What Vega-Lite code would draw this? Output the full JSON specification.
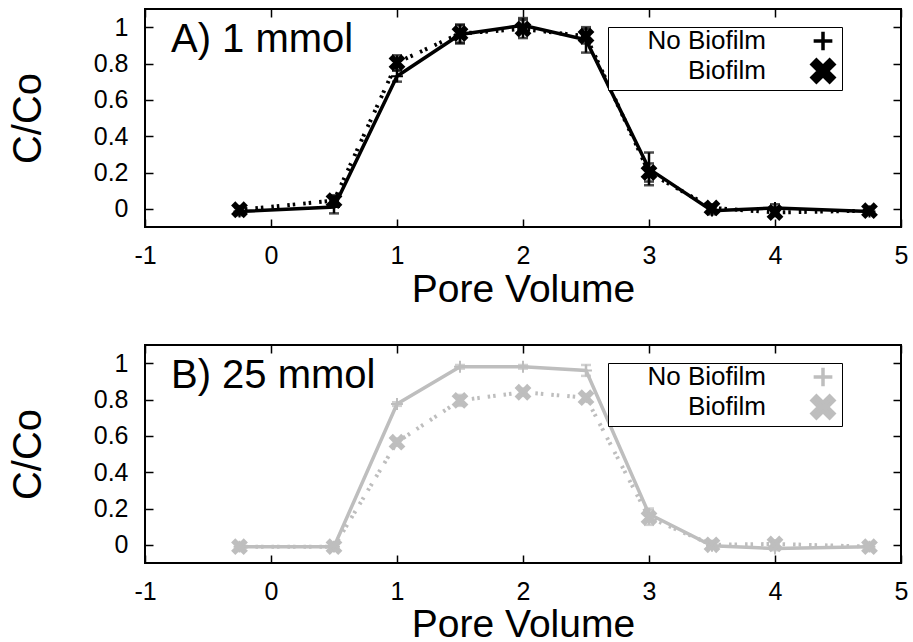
{
  "$schema": "https://vega.github.io/schema/vega-lite/v6.json",
  "padding": {"left": 7, "top": 7, "right": 5, "bottom": 0},
  "bounds": "flush",
  "spacing": 118,
  "resolve": {"scale": {"shape": "independent"}, "legend": {"shape": "independent"}},
  "datasets": {
    "a": [
      {"pv": -0.25, "val": -0.015, "lo": -0.035, "hi": 0.005, "series": "No Biofilm"},
      {"pv": 0.5, "val": 0.01, "lo": -0.025, "hi": 0.045, "series": "No Biofilm"},
      {"pv": 1, "val": 0.73, "lo": 0.7, "hi": 0.76, "series": "No Biofilm"},
      {"pv": 1.5, "val": 0.96, "lo": 0.91, "hi": 1.01, "series": "No Biofilm"},
      {"pv": 2, "val": 1.01, "lo": 0.97, "hi": 1.05, "series": "No Biofilm"},
      {"pv": 2.5, "val": 0.93, "lo": 0.86, "hi": 1.0, "series": "No Biofilm"},
      {"pv": 3, "val": 0.22, "lo": 0.13, "hi": 0.31, "series": "No Biofilm"},
      {"pv": 3.5, "val": -0.01, "lo": -0.03, "hi": 0.01, "series": "No Biofilm"},
      {"pv": 4, "val": 0.005, "lo": -0.015, "hi": 0.025, "series": "No Biofilm"},
      {"pv": 4.75, "val": -0.015, "lo": -0.025, "hi": -0.005, "series": "No Biofilm"},
      {"pv": -0.25, "val": -0.005, "lo": -0.025, "hi": 0.015, "series": "Biofilm"},
      {"pv": 0.5, "val": 0.045, "lo": 0.015, "hi": 0.075, "series": "Biofilm"},
      {"pv": 1, "val": 0.805, "lo": 0.765, "hi": 0.845, "series": "Biofilm"},
      {"pv": 1.5, "val": 0.965, "lo": 0.915, "hi": 1.015, "series": "Biofilm"},
      {"pv": 2, "val": 0.99, "lo": 0.94, "hi": 1.04, "series": "Biofilm"},
      {"pv": 2.5, "val": 0.95, "lo": 0.91, "hi": 0.99, "series": "Biofilm"},
      {"pv": 3, "val": 0.2, "lo": 0.15, "hi": 0.25, "series": "Biofilm"},
      {"pv": 3.5, "val": 0.005, "lo": -0.015, "hi": 0.025, "series": "Biofilm"},
      {"pv": 4, "val": -0.02, "lo": -0.04, "hi": 0.0, "series": "Biofilm"},
      {"pv": 4.75, "val": -0.01, "lo": -0.03, "hi": 0.01, "series": "Biofilm"}
    ],
    "b": [
      {"pv": -0.25, "val": -0.01, "lo": -0.02, "hi": 0.0, "series": "No Biofilm"},
      {"pv": 0.5, "val": -0.01, "lo": -0.02, "hi": 0.0, "series": "No Biofilm"},
      {"pv": 1, "val": 0.775, "lo": 0.765, "hi": 0.785, "series": "No Biofilm"},
      {"pv": 1.5, "val": 0.98, "lo": 0.97, "hi": 0.99, "series": "No Biofilm"},
      {"pv": 2, "val": 0.98, "lo": 0.97, "hi": 0.99, "series": "No Biofilm"},
      {"pv": 2.5, "val": 0.96, "lo": 0.93, "hi": 0.99, "series": "No Biofilm"},
      {"pv": 3, "val": 0.17, "lo": 0.14, "hi": 0.2, "series": "No Biofilm"},
      {"pv": 3.5, "val": -0.005, "lo": -0.015, "hi": 0.005, "series": "No Biofilm"},
      {"pv": 4, "val": -0.02, "lo": -0.03, "hi": -0.01, "series": "No Biofilm"},
      {"pv": 4.75, "val": -0.01, "lo": -0.02, "hi": 0.0, "series": "No Biofilm"},
      {"pv": -0.25, "val": -0.01, "lo": -0.03, "hi": 0.01, "series": "Biofilm"},
      {"pv": 0.5, "val": -0.01, "lo": -0.03, "hi": 0.01, "series": "Biofilm"},
      {"pv": 1, "val": 0.565, "lo": 0.545, "hi": 0.585, "series": "Biofilm"},
      {"pv": 1.5, "val": 0.795, "lo": 0.765, "hi": 0.825, "series": "Biofilm"},
      {"pv": 2, "val": 0.84, "lo": 0.82, "hi": 0.86, "series": "Biofilm"},
      {"pv": 2.5, "val": 0.81, "lo": 0.79, "hi": 0.83, "series": "Biofilm"},
      {"pv": 3, "val": 0.15, "lo": 0.11, "hi": 0.19, "series": "Biofilm"},
      {"pv": 3.5, "val": 0.0, "lo": -0.02, "hi": 0.02, "series": "Biofilm"},
      {"pv": 4, "val": 0.005, "lo": -0.015, "hi": 0.025, "series": "Biofilm"},
      {"pv": 4.75, "val": -0.01, "lo": -0.03, "hi": 0.01, "series": "Biofilm"}
    ]
  },
  "config": {
    "view": {"stroke": "black", "strokeWidth": 2},
    "font": "Liberation Sans",
    "axis": {
      "labelFont": "Liberation Sans", "titleFont": "Liberation Sans",
      "labelColor": "black", "titleColor": "black", "tickColor": "black",
      "tickWidth": 1.5, "grid": false, "domain": false,
      "labelFontSize": 25, "titleFontSize": 40, "titleFontWeight": "normal",
      "tickSize": -8, "labelFlush": false, "labelOverlap": false, "labelBound": false,
      "labelExpr": "'' + datum.value"
    },
    "title": {
      "font": "Liberation Sans", "fontSize": 40, "fontWeight": "normal", "color": "black",
      "anchor": "start", "frame": "group", "offset": -52, "baseline": "alphabetic", "dx": 26
    }
  },
  "vconcat": [
    {
      "width": 756, "height": 218,
      "title": {"text": "A) 1 mmol"},
      "data": {"name": "a"},
      "layer": [
        {
          "mark": {"type": "errorbar", "color": "black", "ticks": {"size": 10, "thickness": 2.5}, "rule": {"strokeWidth": 2.5}},
          "encoding": {
            "x": {"field": "pv", "type": "quantitative", "scale": {"domain": [-1, 5], "nice": false, "zero": false}, "axis": null},
            "y": {"field": "lo", "type": "quantitative", "scale": {"domain": [-0.1, 1.1], "nice": false, "zero": false}, "axis": null},
            "y2": {"field": "hi"}
          }
        },
        {
          "transform": [{"filter": "datum.series === 'Biofilm'"}],
          "mark": {"type": "line", "color": "black", "strokeWidth": 4, "strokeDash": [2.5, 3, 2.5, 8]},
          "encoding": {
            "x": {"field": "pv", "type": "quantitative", "scale": {"domain": [-1, 5], "nice": false, "zero": false}, "axis": null},
            "y": {"field": "val", "type": "quantitative", "scale": {"domain": [-0.1, 1.1], "nice": false, "zero": false}, "axis": null}
          }
        },
        {
          "transform": [{"filter": "datum.series === 'No Biofilm'"}],
          "mark": {"type": "line", "color": "black", "strokeWidth": 3.5},
          "encoding": {
            "x": {"field": "pv", "type": "quantitative", "scale": {"domain": [-1, 5], "nice": false, "zero": false},
              "axis": {"orient": "bottom", "values": [-1, 0, 1, 2, 3, 4, 5], "title": "Pore Volume", "titleFontSize": 39, "titleY": 74, "titleBaseline": "alphabetic", "labelPadding": 24}},
            "y": {"field": "val", "type": "quantitative", "scale": {"domain": [-0.1, 1.1], "nice": false, "zero": false},
              "axis": {"orient": "left", "values": [0, 0.2, 0.4, 0.6, 0.8, 1], "title": "C/Co", "titleX": -105, "titleY": 109, "titleAngle": 270, "titleBaseline": "alphabetic", "titleAlign": "center", "labelPadding": 25}}
          }
        },
        {
          "mark": {"type": "point", "filled": true, "color": "black", "stroke": "black", "strokeWidth": 2, "opacity": 1, "size": 196},
          "encoding": {
            "x": {"field": "pv", "type": "quantitative", "scale": {"domain": [-1, 5], "nice": false, "zero": false},
              "axis": {"orient": "top", "values": [-1, 0, 1, 2, 3, 4, 5], "labels": false, "title": null}},
            "y": {"field": "val", "type": "quantitative", "scale": {"domain": [-0.1, 1.1], "nice": false, "zero": false},
              "axis": {"orient": "right", "values": [0, 0.2, 0.4, 0.6, 0.8, 1], "labels": false, "title": null}},
            "shape": {"field": "series", "type": "nominal",
              "scale": {"domain": ["No Biofilm", "Biofilm"], "range": ["M-0.85,0H0.85M0,-0.85V0.85", "M-1,-0.6L-0.6,-1L0,-0.4L0.6,-1L1,-0.6L0.4,0L1,0.6L0.6,1L0,0.4L-0.6,1L-1,0.6L-0.4,0Z"]},
              "legend": {"title": null,
                "orient": "none", "legendX": 463, "legendY": 18,
                "labelFont": "Liberation Sans", "labelFontSize": 26, "labelColor": "black",
                "labelAlign": "right", "labelOffset": -70, "symbolOffset": 201,
                "rowPadding": -8, "padding": 1,
                "strokeColor": "black", "fillColor": "white",
                "encoding": {"symbols": {
                  "shape": {
                    "condition": {"test": "datum.value === 'Biofilm'", "value": "M-3.636,0H-3.455M-3.236,0H-3.055M-2.618,0H-2.436M-2.218,0H-2.036M-1.6,0H-1.418M-1.2,0H-1.018M1.018,0H1.2M1.418,0H1.6M2.036,0H2.218M2.436,0H2.618M3.055,0H3.236M3.455,0H3.636M-0.873,-0.524L-0.524,-0.873L0,-0.349L0.524,-0.873L0.873,-0.524L0.349,0L0.873,0.524L0.524,0.873L0,0.349L-0.524,0.873L-0.873,0.524L-0.349,0ZM4.5,0"},
                    "value": "M-3.636,0H3.636M-3.636,-0.364V0.364M3.636,-0.364V0.364M0,-0.545V0.545M4.5,0"
                  },
                  "size": {"value": 484},
                  "strokeWidth": {"value": 3.5},
                  "stroke": {"value": "black"},
                  "fill": {"value": "black"},
                  "opacity": {"value": 1}, "fillOpacity": {"value": 1}, "strokeOpacity": {"value": 1}
                }}
              }
            }
          }
        }
      ],
      "resolve": {"axis": {"x": "independent", "y": "independent"}}
    },
    {
      "width": 756, "height": 218,
      "title": {"text": "B) 25 mmol"},
      "data": {"name": "b"},
      "layer": [
        {
          "mark": {"type": "errorbar", "color": "#bebebe", "ticks": {"size": 10, "thickness": 2.5}, "rule": {"strokeWidth": 2.5}},
          "encoding": {
            "x": {"field": "pv", "type": "quantitative", "scale": {"domain": [-1, 5], "nice": false, "zero": false}, "axis": null},
            "y": {"field": "lo", "type": "quantitative", "scale": {"domain": [-0.1, 1.1], "nice": false, "zero": false}, "axis": null},
            "y2": {"field": "hi"}
          }
        },
        {
          "transform": [{"filter": "datum.series === 'Biofilm'"}],
          "mark": {"type": "line", "color": "#bebebe", "strokeWidth": 4, "strokeDash": [2.5, 3, 2.5, 8]},
          "encoding": {
            "x": {"field": "pv", "type": "quantitative", "scale": {"domain": [-1, 5], "nice": false, "zero": false}, "axis": null},
            "y": {"field": "val", "type": "quantitative", "scale": {"domain": [-0.1, 1.1], "nice": false, "zero": false}, "axis": null}
          }
        },
        {
          "transform": [{"filter": "datum.series === 'No Biofilm'"}],
          "mark": {"type": "line", "color": "#bebebe", "strokeWidth": 3.5},
          "encoding": {
            "x": {"field": "pv", "type": "quantitative", "scale": {"domain": [-1, 5], "nice": false, "zero": false},
              "axis": {"orient": "bottom", "values": [-1, 0, 1, 2, 3, 4, 5], "title": "Pore Volume", "titleFontSize": 39, "titleY": 73, "titleBaseline": "alphabetic", "labelPadding": 24}},
            "y": {"field": "val", "type": "quantitative", "scale": {"domain": [-0.1, 1.1], "nice": false, "zero": false},
              "axis": {"orient": "left", "values": [0, 0.2, 0.4, 0.6, 0.8, 1], "title": "C/Co", "titleX": -105, "titleY": 109, "titleAngle": 270, "titleBaseline": "alphabetic", "titleAlign": "center", "labelPadding": 25}}
          }
        },
        {
          "mark": {"type": "point", "filled": true, "color": "#bebebe", "stroke": "#bebebe", "strokeWidth": 2, "opacity": 1, "size": 196},
          "encoding": {
            "x": {"field": "pv", "type": "quantitative", "scale": {"domain": [-1, 5], "nice": false, "zero": false},
              "axis": {"orient": "top", "values": [-1, 0, 1, 2, 3, 4, 5], "labels": false, "title": null}},
            "y": {"field": "val", "type": "quantitative", "scale": {"domain": [-0.1, 1.1], "nice": false, "zero": false},
              "axis": {"orient": "right", "values": [0, 0.2, 0.4, 0.6, 0.8, 1], "labels": false, "title": null}},
            "shape": {"field": "series", "type": "nominal",
              "scale": {"domain": ["No Biofilm", "Biofilm"], "range": ["M-0.85,0H0.85M0,-0.85V0.85", "M-1,-0.6L-0.6,-1L0,-0.4L0.6,-1L1,-0.6L0.4,0L1,0.6L0.6,1L0,0.4L-0.6,1L-1,0.6L-0.4,0Z"]},
              "legend": {"title": null,
                "orient": "none", "legendX": 463, "legendY": 18,
                "labelFont": "Liberation Sans", "labelFontSize": 26, "labelColor": "black",
                "labelAlign": "right", "labelOffset": -70, "symbolOffset": 201,
                "rowPadding": -8, "padding": 1,
                "strokeColor": "black", "fillColor": "white",
                "encoding": {"symbols": {
                  "shape": {
                    "condition": {"test": "datum.value === 'Biofilm'", "value": "M-3.636,0H-3.455M-3.236,0H-3.055M-2.618,0H-2.436M-2.218,0H-2.036M-1.6,0H-1.418M-1.2,0H-1.018M1.018,0H1.2M1.418,0H1.6M2.036,0H2.218M2.436,0H2.618M3.055,0H3.236M3.455,0H3.636M-0.873,-0.524L-0.524,-0.873L0,-0.349L0.524,-0.873L0.873,-0.524L0.349,0L0.873,0.524L0.524,0.873L0,0.349L-0.524,0.873L-0.873,0.524L-0.349,0ZM4.5,0"},
                    "value": "M-3.636,0H3.636M-3.636,-0.364V0.364M3.636,-0.364V0.364M0,-0.545V0.545M4.5,0"
                  },
                  "size": {"value": 484},
                  "strokeWidth": {"value": 3.5},
                  "stroke": {"value": "#bebebe"},
                  "fill": {"value": "#bebebe"},
                  "opacity": {"value": 1}, "fillOpacity": {"value": 1}, "strokeOpacity": {"value": 1}
                }}
              }
            }
          }
        }
      ],
      "resolve": {"axis": {"x": "independent", "y": "independent"}}
    }
  ]
}
